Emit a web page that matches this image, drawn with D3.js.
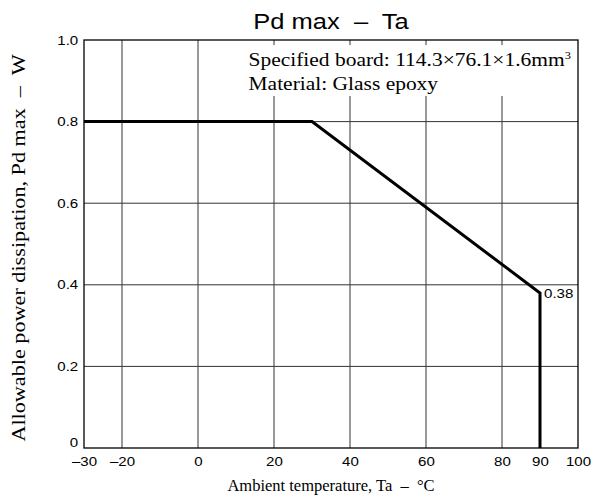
<!DOCTYPE html>
<html>
<head>
<meta charset="utf-8">
<script src="https://cdn.jsdelivr.net/npm/d3@7"></script>
<style>
  body { margin: 0; background: #fff; }
  text { white-space: pre; }
  .tick text { font-family: "Liberation Sans", Arial, sans-serif; font-size: 13px; fill: #000; }
</style>
</head>
<body>
<svg></svg>
<script>
// derating curve points
let temps = [-30, 30, 90, 90];
let power = [0.8, 0.8, 0.38, 0];

// tick labels
let xTicks = [-30, -20, 0, 20, 40, 60, 80, 90, 100];
let xGrid = [-20, 0, 20, 40, 60, 80];
let yTicks = [0, 0.2, 0.4, 0.6, 0.8, 1.0];
let yGrid = [0.2, 0.4, 0.6, 0.8];

let config = { svg: {}, plot: {} };
config.svg.width = 594;
config.svg.height = 499;
config.plot.x = 84;
config.plot.y = 40;
config.plot.width = 494;
config.plot.height = 408;

// the reference lettering is a bit wider than normal
let stretch = 1.16;

let svg = d3.select('svg')
  .attr('width', config.svg.width)
  .attr('height', config.svg.height);

let plot = svg.append('g')
  .attr('transform', translate(config.plot.x, config.plot.y));

let scale = {};
scale.x = d3.scaleLinear().domain([-30, 100]).range([0, config.plot.width]);
scale.y = d3.scaleLinear().domain([0, 1]).range([config.plot.height, 0]);

// grid
plot.selectAll('line.vgrid')
  .data(xGrid)
  .enter()
  .append('line')
  .attr('class', 'vgrid')
  .attr('x1', d => scale.x(d))
  .attr('x2', d => scale.x(d))
  .attr('y1', 0)
  .attr('y2', config.plot.height)
  .attr('stroke', '#333')
  .attr('stroke-width', 1);

plot.selectAll('line.hgrid')
  .data(yGrid)
  .enter()
  .append('line')
  .attr('class', 'hgrid')
  .attr('x1', 0)
  .attr('x2', config.plot.width)
  .attr('y1', d => scale.y(d))
  .attr('y2', d => scale.y(d))
  .attr('stroke', '#333')
  .attr('stroke-width', 1);

// white box behind the board note
plot.append('rect')
  .attr('x', scale.x(11.5))
  .attr('y', 5)
  .attr('width', scale.x(100) - scale.x(11.5) - 1)
  .attr('height', 51)
  .attr('fill', '#fff');

let note = plot.append('g')
  .attr('transform', translate(scale.x(13.3), 0) + ' scale(1.13,1)')
  .style('font-family', '"Liberation Serif", "Times New Roman", serif')
  .style('font-size', '19px');

note.append('text')
  .attr('y', 26)
  .html('Specified board: 114.3×76.1×1.6mm<tspan dy="-7" font-size="11px">3</tspan>');

note.append('text')
  .attr('y', 50)
  .text('Material: Glass epoxy');

// frame
plot.append('rect')
  .attr('width', config.plot.width)
  .attr('height', config.plot.height)
  .attr('fill', 'none')
  .attr('stroke', '#000')
  .attr('stroke-width', 1.3);

// axes
let axis = {};
axis.x = d3.axisBottom(scale.x).tickValues(xTicks).tickSize(0).tickPadding(6)
  .tickFormat(d => d < 0 ? '\u2013' + Math.abs(d) : d);
axis.y = d3.axisLeft(scale.y).tickValues(yTicks).tickSize(0).tickPadding(5)
  .tickFormat(d => d === 0 ? '0' : d3.format('.1f')(d));

let gx = plot.append('g')
  .attr('transform', translate(0, config.plot.height))
  .call(axis.x);
gx.select('.domain').remove();
gx.selectAll('.tick text')
  .attr('dy', '0.9em')
  .attr('transform', 'scale(' + stretch + ',1)');

let gy = plot.append('g').call(axis.y);
gy.select('.domain').remove();
gy.selectAll('.tick text')
  .attr('dy', d => d === 0 ? '-0.1em' : '0.32em')
  .attr('transform', 'scale(' + stretch + ',1)');

// curve
let points = temps.map((t, i) => ({ t: t, p: power[i] }));
let line = d3.line().x(d => scale.x(d.t)).y(d => scale.y(d.p));

plot.append('path')
  .datum(points)
  .attr('d', line)
  .attr('fill', 'none')
  .attr('stroke', '#000')
  .attr('stroke-width', 3);

plot.append('text')
  .attr('transform', translate(scale.x(90) + 4, scale.y(0.38) + 5) + ' scale(' + stretch + ',1)')
  .style('font-family', '"Liberation Sans", Arial, sans-serif')
  .style('font-size', '13px')
  .text('0.38');

// titles
svg.append('text')
  .attr('transform', translate(331, 29) + ' scale(' + stretch + ',1)')
  .attr('text-anchor', 'middle')
  .style('font-family', '"Liberation Sans", Arial, sans-serif')
  .style('font-size', '22px')
  .text('Pd max  \u2013  Ta');

svg.append('text')
  .attr('x', 331)
  .attr('y', 491)
  .attr('text-anchor', 'middle')
  .style('font-family', '"Liberation Serif", "Times New Roman", serif')
  .style('font-size', '16.5px')
  .text('Ambient temperature, Ta  \u2013  \u00b0C');

svg.append('text')
  .attr('transform', 'translate(25,248) rotate(-90) scale(1.2,1)')
  .attr('text-anchor', 'middle')
  .style('font-family', '"Liberation Serif", "Times New Roman", serif')
  .style('font-size', '18.5px')
  .text('Allowable power dissipation, Pd max  \u2013  W');

function translate(x, y) {
  return 'translate(' + x + ',' + y + ')';
}
</script>
</body>
</html>
